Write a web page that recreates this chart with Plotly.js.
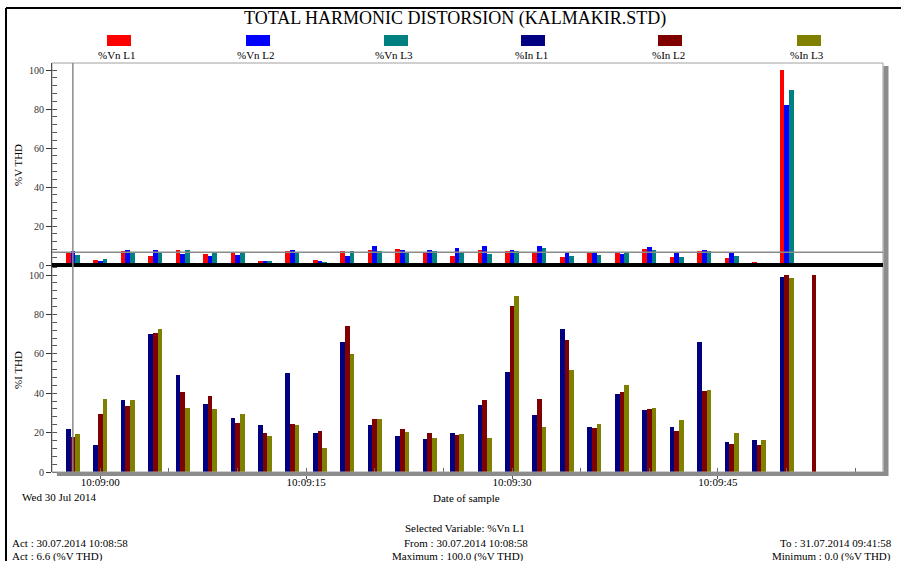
<!DOCTYPE html>
<html>
<head>
<meta charset="utf-8">
<script src="https://cdn.plot.ly/plotly-3.0.1.min.js"></script>
<style>html,body{margin:0;padding:0;background:#fff;}#chart{width:901px;height:561px;}</style>
</head>
<body>
<div id="chart"></div>
<script>
// ---- data ----
var sampleTimes = [
  '2014-07-30 10:08:58','2014-07-30 10:09:00','2014-07-30 10:09:02','2014-07-30 10:09:04',
  '2014-07-30 10:09:06','2014-07-30 10:09:08','2014-07-30 10:09:10','2014-07-30 10:09:12',
  '2014-07-30 10:09:14','2014-07-30 10:09:16','2014-07-30 10:09:18','2014-07-30 10:09:20',
  '2014-07-30 10:09:22','2014-07-30 10:09:24','2014-07-30 10:09:26','2014-07-30 10:09:28',
  '2014-07-30 10:09:30','2014-07-30 10:09:32','2014-07-30 10:09:34','2014-07-30 10:09:36',
  '2014-07-30 10:09:38','2014-07-30 10:09:40','2014-07-30 10:09:42','2014-07-30 10:09:44',
  '2014-07-30 10:09:46','2014-07-30 10:09:48','2014-07-30 10:09:50','2014-07-30 10:09:52'
];
var vnL1 = [6.6, 2.4, 7.2, 4.8, 7.7, 5.7, 6.5, 2.2, 7.2, 2.6, 7.4, 7.7, 8.1, 6.5, 4.6, 7.7, 7.4, 6.2, 4.1, 6.5, 6.0, 8.2, 3.9, 7.2, 3.8, 1.4, 100, 0];
var vnL2 = [7.2, 2.3, 7.7, 7.7, 5.7, 4.6, 5.1, 2.1, 7.7, 2.2, 4.8, 9.6, 7.9, 7.5, 8.6, 9.9, 7.9, 9.9, 6.0, 6.5, 5.5, 9.4, 6.0, 7.9, 6.5, 1.0, 82.1, 0];
var vnL3 = [5.3, 3.2, 6.5, 6.3, 7.7, 6.2, 6.2, 1.9, 6.0, 1.7, 7.0, 7.4, 6.2, 7.4, 6.9, 5.7, 7.4, 8.9, 4.8, 5.1, 6.2, 7.7, 3.9, 7.4, 4.8, 0.9, 89.8, 0];
var inL1 = [21.7, 13.6, 36.4, 70.2, 49.0, 34.7, 27.5, 23.7, 50.3, 20.0, 66.1, 23.7, 18.3, 16.6, 20.0, 33.9, 51.0, 28.8, 72.7, 22.7, 39.7, 31.7, 23.1, 65.8, 15.1, 16.1, 99.2, 0];
var inL2 = [17.8, 29.3, 33.4, 70.8, 40.8, 38.8, 25.1, 19.7, 24.4, 21.0, 73.9, 27.1, 22.0, 19.7, 18.6, 36.4, 84.4, 37.3, 66.8, 22.4, 40.8, 32.2, 20.8, 41.0, 14.4, 13.9, 99.8, 100];
var inL3 = [19.2, 37.1, 36.8, 72.5, 32.4, 31.9, 29.3, 18.3, 24.1, 12.0, 59.8, 26.8, 20.3, 17.3, 19.3, 17.5, 89.5, 22.7, 51.7, 24.4, 44.4, 32.5, 26.4, 41.7, 19.7, 16.1, 98.3, 0];
var seriesNames = ['%Vn L1', '%Vn L2', '%Vn L3', '%In L1', '%In L2', '%In L3'];
var seriesColors = ['#FF0000', '#0000FF', '#008080', '#000080', '#800000', '#808000'];
var cursorTime = '2014-07-30 10:08:58';
var actValue = 6.6;
var chartTitle = 'TOTAL HARMONIC DISTORSION (KALMAKIR.STD)';
var footer = {
  selected: 'Selected Variable: %Vn L1',
  from: 'From : 30.07.2014 10:08:58',
  maximum: 'Maximum : 100.0 (%V THD)',
  actTime: 'Act : 30.07.2014 10:08:58',
  actVal: 'Act : 6.6 (%V THD)',
  to: 'To : 31.07.2014 09:41:58',
  minimum: 'Minimum : 0.0 (%V THD)'
};

// ---- layout geometry ----
var W = 901, H = 561;
var L = 52, T = 63, R = 18, B = 89;
var PW = W - L - R, PH = H - T - B;
function px(x) { return (x - L) / PW; }
function py(y) { return (H - B - y) / PH; }
var split = py(265);
var FONT = 'Times New Roman, Liberation Serif, DejaVu Serif, serif';

var vSeries = [vnL1, vnL2, vnL3];
var iSeries = [inL1, inL2, inL3];
var offsets = [-510, -170, 170];
var traces = [];
for (var k = 0; k < 3; k++) {
  traces.push({type: 'bar', x: sampleTimes, y: vSeries[k], name: seriesNames[k],
    xaxis: 'x', yaxis: 'y', width: 340, offset: offsets[k],
    marker: {color: seriesColors[k], line: {width: 0}}, hoverinfo: 'x+y+name'});
}
for (var k = 0; k < 3; k++) {
  traces.push({type: 'bar', x: sampleTimes, y: iSeries[k], name: seriesNames[k + 3],
    xaxis: 'x', yaxis: 'y2', width: 340, offset: offsets[k],
    marker: {color: seriesColors[k + 3], line: {width: 0}}, hoverinfo: 'x+y+name'});
}

var shapes = [
  // outer frame
  {type: 'line', xref: 'paper', yref: 'paper', x0: px(6), x1: px(6), y0: py(8), y1: py(561), line: {color: '#000', width: 2}},
  {type: 'line', xref: 'paper', yref: 'paper', x0: px(6), x1: px(901), y0: py(8), y1: py(8), line: {color: '#000', width: 2}},
  // plot border
  {type: 'rect', xref: 'paper', yref: 'paper', x0: 0, x1: 1, y0: 0, y1: 1, line: {color: '#a0a0a0', width: 1}},
  // shadows
  {type: 'line', xref: 'paper', yref: 'paper', x0: px(886), x1: px(886), y0: py(66), y1: py(476), line: {color: '#8c8c8c', width: 5}},
  {type: 'line', xref: 'paper', yref: 'paper', x0: px(57), x1: px(888), y0: py(474), y1: py(474), line: {color: '#8c8c8c', width: 4}},
  // separator between panels
  {type: 'line', xref: 'paper', yref: 'paper', x0: 0, x1: 1, y0: split, y1: split, line: {color: '#000', width: 4}},
  // cursor lines
  {type: 'line', xref: 'x', yref: 'paper', x0: cursorTime, x1: cursorTime, y0: 0, y1: 1, line: {color: '#8a8a8a', width: 1.5}},
  {type: 'line', xref: 'paper', yref: 'y', x0: 0, x1: 1, y0: actValue, y1: actValue, line: {color: '#8a8a8a', width: 1.5}}
];

var legendX = [119, 258, 396, 533, 670, 809];
var annotations = [];
for (var i = 0; i < seriesNames.length; i++) {
  shapes.push({type: 'rect', xref: 'paper', yref: 'paper',
    x0: px(legendX[i] - 12), x1: px(legendX[i] + 12), y0: py(46), y1: py(35),
    fillcolor: seriesColors[i], line: {width: 0}});
  annotations.push({xref: 'paper', yref: 'paper', x: px(legendX[i] - 2), y: py(55), text: seriesNames[i],
    showarrow: false, xanchor: 'center', yanchor: 'middle', font: {family: FONT, size: 11, color: '#000'}});
}
function ann(text, x, y, anchor, size) {
  annotations.push({xref: 'paper', yref: 'paper', x: px(x), y: py(y), text: text, showarrow: false,
    xanchor: anchor, yanchor: 'middle', font: {family: FONT, size: size || 11, color: '#000'}});
}
ann(chartTitle, 455, 19, 'center', 18);
ann('%V THD', 18, 165, 'center', 11);
annotations[annotations.length - 1].textangle = -90;
ann('%I THD', 18, 370, 'center', 11);
annotations[annotations.length - 1].textangle = -90;
ann('Wed 30 Jul 2014', 20, 497, 'left', 11);
ann('Date of sample', 466, 498, 'center', 11);
ann(footer.selected, 465, 528, 'center', 11);
ann(footer.from, 466, 543, 'center', 11);
ann(footer.maximum, 458, 556, 'center', 11);
ann(footer.actTime, 10, 543, 'left', 11);
ann(footer.actVal, 10, 556, 'left', 11);
ann(footer.to, 778, 543, 'left', 11);
ann(footer.minimum, 770, 556, 'left', 11);

var yCommon = {
  showline: true, linecolor: '#000', linewidth: 1, zeroline: false, showgrid: false,
  dtick: 20, tick0: 0, ticks: 'outside', ticklen: 5, tickcolor: '#333', tickwidth: 1,
  tickfont: {family: FONT, size: 10, color: '#333'},
  minor: {dtick: 4, ticks: 'inside', ticklen: 5, tickcolor: '#555', showgrid: false},
  fixedrange: true
};
var layout = {
  width: W, height: H,
  margin: {l: L, r: R, t: T, b: B, pad: 0},
  paper_bgcolor: '#fff', plot_bgcolor: '#fff',
  showlegend: false, barmode: 'overlay', bargap: 0,
  font: {family: FONT, size: 11, color: '#000'},
  xaxis: {
    type: 'date', anchor: 'y2',
    range: ['2014-07-30 10:08:56.48', '2014-07-30 10:09:57.03'],
    tick0: '2014-07-30 10:09:00', dtick: 15000, tickformat: '%H:%M:%S',
    ticks: 'outside', ticklen: 6, tickcolor: '#555', tickwidth: 1,
    ticklabelstandoff: -6,
    tickfont: {family: FONT, size: 11, color: '#000'},
    minor: {dtick: 5000, ticks: 'inside', ticklen: 4, tickcolor: '#666', showgrid: false},
    showline: false, showgrid: false, zeroline: false, fixedrange: true
  },
  yaxis: Object.assign({}, yCommon, {domain: [split, 1], range: [0, 103.6], anchor: 'x'}),
  yaxis2: Object.assign({}, yCommon, {domain: [0, split], range: [0, 105.1], anchor: 'x'}),
  shapes: shapes,
  annotations: annotations
};
Plotly.newPlot('chart', traces, layout, {displayModeBar: false, staticPlot: true});
</script>
</body>
</html>
